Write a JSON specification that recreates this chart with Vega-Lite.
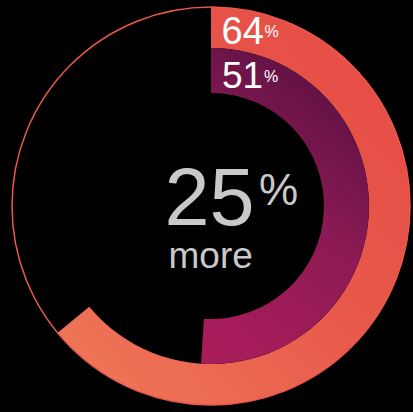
{
  "$schema": "https://vega.github.io/schema/vega-lite/v6.json",
  "width": 404,
  "height": 410,
  "autosize": "none",
  "padding": {"left": 9, "top": 1, "right": 0, "bottom": 1},
  "background": "#000000",
  "config": {"view": {"stroke": null}, "font": "Liberation Sans"},
  "datasets": {
    "rings": [
      {"ring": "outer", "start": 0, "end": 64},
      {"ring": "inner", "start": 0, "end": 51}
    ]
  },
  "layer": [
    {
      "data": {"name": "rings"},
      "transform": [{"filter": "datum.ring === 'outer'"}],
      "mark": {
        "type": "arc", "radius": 199, "radius2": 158,
        "color": {"gradient": "linear", "x1": 1, "y1": 0, "x2": 0, "y2": 1,
          "stops": [{"offset": 0, "color": "#e54844"}, {"offset": 0.5, "color": "#e85a4b"}, {"offset": 1, "color": "#f07a5a"}]}
      },
      "encoding": {
        "theta": {"field": "start", "type": "quantitative", "scale": {"domain": [0, 100], "range": [0, 6.283185307]}},
        "theta2": {"field": "end"}
      }
    },
    {
      "data": {"name": "rings"},
      "transform": [{"filter": "datum.ring === 'inner'"}],
      "mark": {
        "type": "arc", "radius": 158, "radius2": 113,
        "color": {"gradient": "linear", "x1": 0.7, "y1": 0, "x2": 0.3, "y2": 1,
          "stops": [{"offset": 0, "color": "#581042"}, {"offset": 0.5, "color": "#8c1a54"}, {"offset": 1, "color": "#a81c5a"}]}
      },
      "encoding": {
        "theta": {"field": "start", "type": "quantitative", "scale": {"domain": [0, 100], "range": [0, 6.283185307]}},
        "theta2": {"field": "end"}
      }
    },
    {
      "data": {"values": [{"v": 100}]},
      "mark": {"type": "arc", "radius": 199, "theta": 0, "theta2": 6.3, "fillOpacity": 0, "stroke": "#ea5a4c", "strokeWidth": 1.5},
      "encoding": {}
    },
    {
      "data": {"values": [{"t": "64"}]},
      "mark": {"type": "text", "align": "left", "baseline": "alphabetic", "fontSize": 38, "color": "#ffffff", "dx": 10.5, "dy": -162},
      "encoding": {"text": {"field": "t"}}
    },
    {
      "data": {"values": [{"t": "%"}]},
      "mark": {"type": "text", "align": "left", "baseline": "alphabetic", "fontSize": 16, "color": "#ffffff", "dx": 53.5, "dy": -169},
      "encoding": {"text": {"field": "t"}}
    },
    {
      "data": {"values": [{"t": "51"}]},
      "mark": {"type": "text", "align": "left", "baseline": "alphabetic", "fontSize": 37, "color": "#ffffff", "dx": 11, "dy": -118},
      "encoding": {"text": {"field": "t"}}
    },
    {
      "data": {"values": [{"t": "%"}]},
      "mark": {"type": "text", "align": "left", "baseline": "alphabetic", "fontSize": 16, "color": "#ffffff", "dx": 53, "dy": -124},
      "encoding": {"text": {"field": "t"}}
    },
    {
      "data": {"values": [{"t": "25"}]},
      "mark": {"type": "text", "align": "left", "baseline": "alphabetic", "fontSize": 81, "color": "#c9c9c9", "dx": -46.5, "dy": 19},
      "encoding": {"text": {"field": "t"}}
    },
    {
      "data": {"values": [{"t": "%"}]},
      "mark": {"type": "text", "align": "left", "baseline": "alphabetic", "fontSize": 44, "color": "#c9c9c9", "dx": 48, "dy": -1},
      "encoding": {"text": {"field": "t"}}
    },
    {
      "data": {"values": [{"t": "more"}]},
      "mark": {"type": "text", "align": "left", "baseline": "alphabetic", "fontSize": 37, "color": "#c9c9c9", "dx": -42.5, "dy": 62},
      "encoding": {"text": {"field": "t"}}
    }
  ]
}
